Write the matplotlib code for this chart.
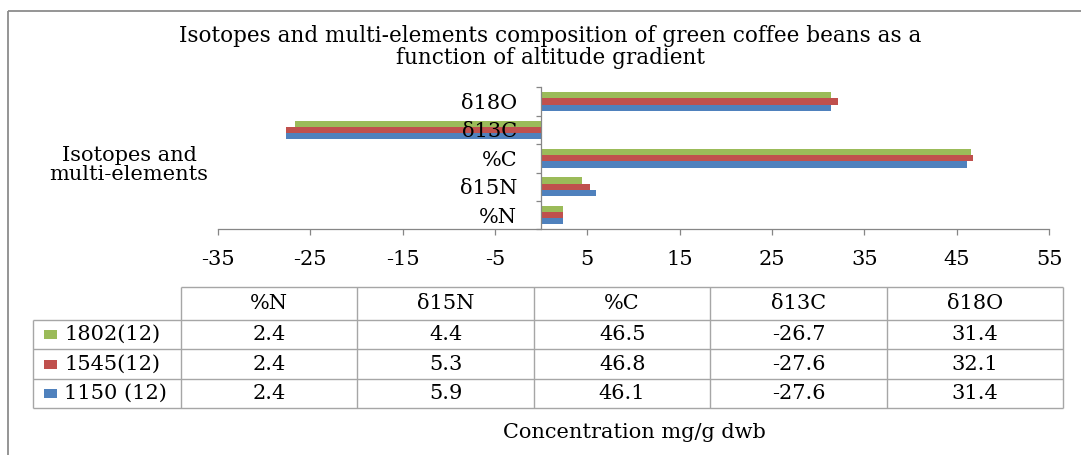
import matplotlib
matplotlib.use('Agg')
import matplotlib.pyplot as plt
from matplotlib.patches import Rectangle
import numpy as np

# ---------------- data ----------------
categories = ['%N', 'δ15N', '%C', 'δ13C', 'δ18O']
series_names = ['1802(12)', '1545(12)', '1150 (12)']
values_1802 = [2.4, 4.4, 46.5, -26.7, 31.4]
values_1545 = [2.4, 5.3, 46.8, -27.6, 32.1]
values_1150 = [2.4, 5.9, 46.1, -27.6, 31.4]
series_colors = ['#9BBB59', '#C0504D', '#4F81BD']
x_ticks = [-35, -25, -15, -5, 5, 15, 25, 35, 45, 55]
title = ('Isotopes and multi-elements composition of green coffee beans as a\n'
         'function of altitude gradient')
y_title = 'Isotopes and\nmulti-elements'
x_title = 'Concentration mg/g dwb'

all_values = [values_1802, values_1545, values_1150]

# ---------------- figure ----------------
W, H = 1081, 455
plt.rcParams['font.family'] = ['DejaVu Serif']
FS = 15
fig = plt.figure(figsize=(W / 100, H / 100), dpi=100)


def px_rect(x0, y0, x1, y1):
    return [x0 / W, 1 - y1 / H, (x1 - x0) / W, (y1 - y0) / H]


# overlay axes in pixel coordinates (frame, titles, data table)
ov = fig.add_axes([0, 0, 1, 1], zorder=0)
ov.set_xlim(0, W)
ov.set_ylim(H, 0)
ov.axis('off')
ov.add_patch(Rectangle((7.5, 10.5), 1100, 500, fill=False,
                       edgecolor='#8c8c8c', lw=1.3))

# main bar axes
grey = '#868686'
ax = fig.add_axes(px_rect(218, 87.3, 1049, 229.3), zorder=1)
ax.patch.set_alpha(0)
ypos = np.arange(len(categories))
h = 0.22
offsets = [h, 0.0, -h]
for vals, col, off, name in zip(all_values, series_colors, offsets, series_names):
    ax.barh(ypos + off, vals, height=h, color=col, label=name)

ax.set_xlim(x_ticks[0], x_ticks[-1])
ax.set_ylim(-0.5, len(categories) - 0.5)
ax.set_xticks(x_ticks)
ax.set_xticklabels([str(t) for t in x_ticks])
ax.set_yticks(np.arange(-0.5, len(categories), 1.0))
ax.set_yticklabels([])
ax.set_yticks(ypos, minor=True)
ax.set_yticklabels(categories, minor=True)

for s in ['top', 'right']:
    ax.spines[s].set_visible(False)
ax.spines['left'].set_position(('data', 0))
ax.spines['left'].set_color(grey)
ax.spines['bottom'].set_color(grey)
ax.spines['left'].set_linewidth(0.9)
ax.spines['bottom'].set_linewidth(0.9)

ax.tick_params(axis='x', direction='out', length=4.3, width=0.9, color=grey,
               pad=10.8, labelsize=FS)
ax.tick_params(axis='y', which='major', direction='out', length=3.6, width=0.9,
               color=grey)
ax.tick_params(axis='y', which='minor', length=0, pad=17.3, labelsize=FS)

# titles
ov.text(550, 47, title, ha='center', va='center', fontsize=15.5,
        linespacing=0.95)
ov.text(129, 165, y_title, ha='center', va='center', fontsize=FS,
        linespacing=1.0)
ov.text(634, 432, x_title, ha='center', va='center', fontsize=FS)

# ---------------- data table ----------------
tcol = '#a6a6a6'
lab_left = 33.3
col0 = 181.0
col_w = (1063.3 - 181.0) / len(categories)
col_edges = [col0 + i * col_w for i in range(len(categories) + 1)]
row_edges = [287.3, 320.0, 349.3, 379.0, 408.3]

ov.hlines(row_edges[0], col_edges[0], col_edges[-1], color=tcol, lw=1)
for y in row_edges[1:]:
    ov.hlines(y, lab_left, col_edges[-1], color=tcol, lw=1)
for x in col_edges:
    ov.vlines(x, row_edges[0], row_edges[-1], color=tcol, lw=1)
ov.vlines(lab_left, row_edges[1], row_edges[-1], color=tcol, lw=1)

for j, cat in enumerate(categories):
    cx = (col_edges[j] + col_edges[j + 1]) / 2
    cy = (row_edges[0] + row_edges[1]) / 2
    ov.text(cx, cy, cat, ha='center', va='center', fontsize=FS)

for i, (name, vals, col) in enumerate(zip(series_names, all_values, series_colors)):
    cy = (row_edges[i + 1] + row_edges[i + 2]) / 2
    ov.add_patch(Rectangle((44, cy - 4.5), 13, 9, color=col, lw=0))
    ov.text(64, cy, name, ha='left', va='center', fontsize=FS)
    for j, v in enumerate(vals):
        cx = (col_edges[j] + col_edges[j + 1]) / 2
        ov.text(cx, cy, f'{v:.1f}', ha='center', va='center', fontsize=FS)

fig.savefig('out.png', dpi=100)
